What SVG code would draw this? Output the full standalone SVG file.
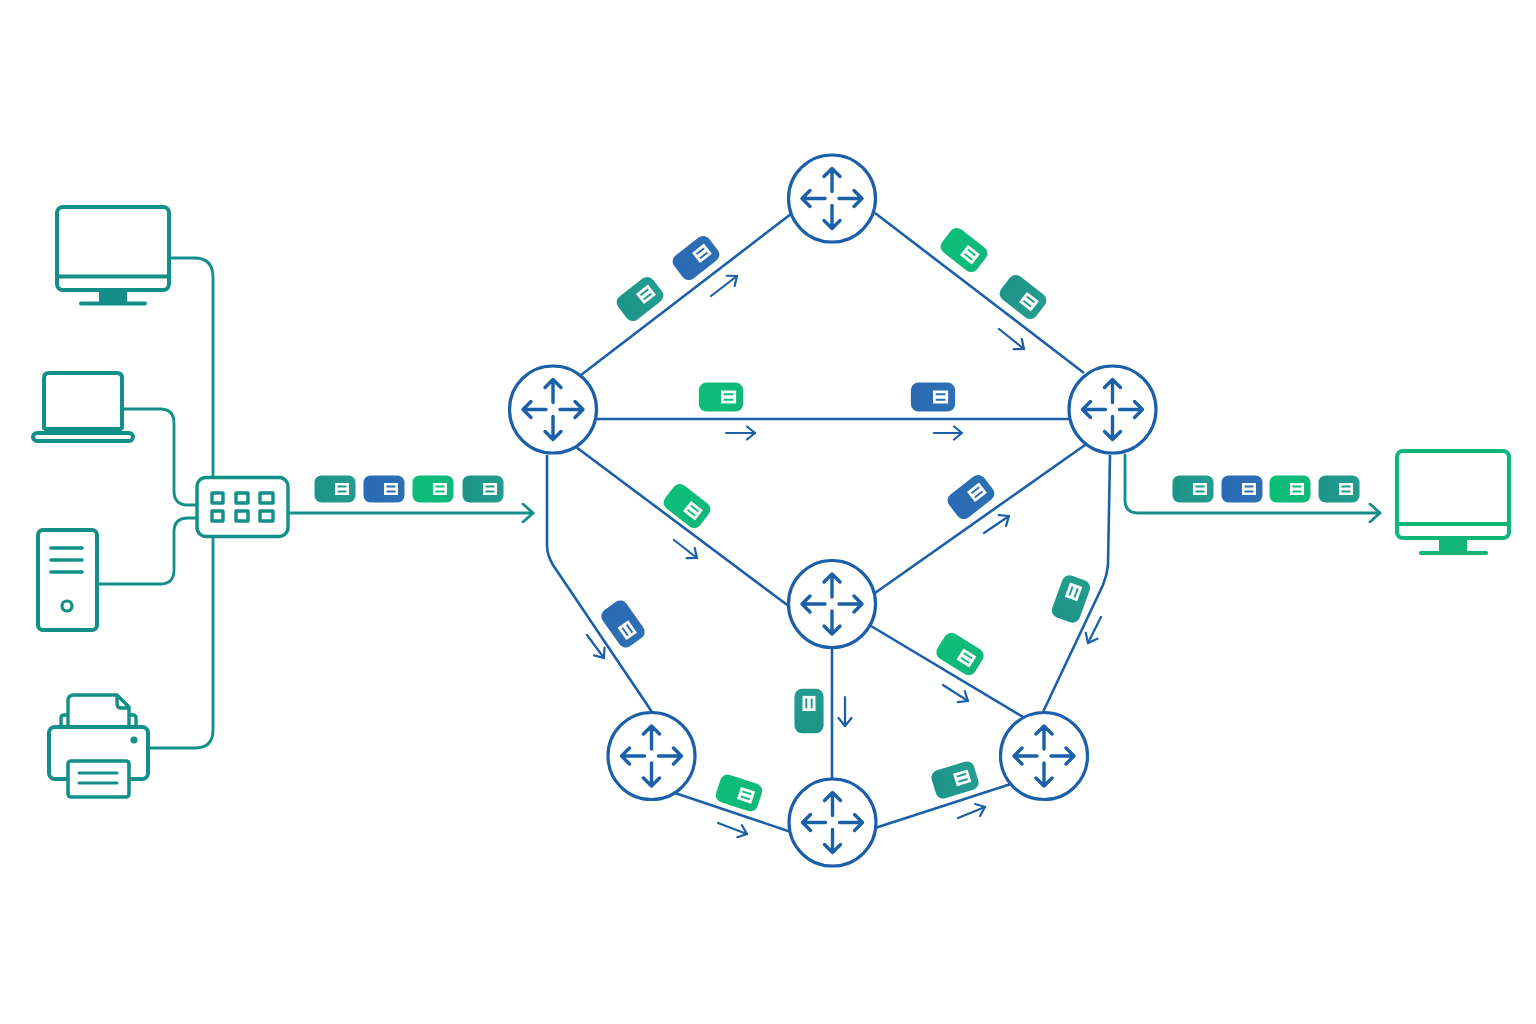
<svg xmlns="http://www.w3.org/2000/svg" width="1536" height="1024" viewBox="0 0 1536 1024">
<style>
.t{fill:none;stroke:#128f88;stroke-width:2.800;stroke-linecap:round;stroke-linejoin:round}
.ti{fill:none;stroke:#128f88;stroke-width:4;stroke-linecap:round;stroke-linejoin:round}
.tf{fill:#128f88}
.g{fill:none;stroke:#10b577;stroke-width:4.200;stroke-linecap:round;stroke-linejoin:round}
.gf{fill:#10b577}
.l{fill:none;stroke:#1a5fa8;stroke-width:2.600;stroke-linejoin:round}
.a{fill:none;stroke:#1a5fa8;stroke-width:2.200;stroke-linecap:round;stroke-linejoin:round}
.r{fill:#fff;stroke:#1a5fa8;stroke-width:3.200}
.ra{fill:none;stroke:#1a5fa8;stroke-width:3.400;stroke-linecap:round;stroke-linejoin:round}
.pt{fill:url(#gt)}.pb{fill:url(#gb)}.pg{fill:url(#gg)}
.w{fill:#fff}
.il{fill:none;stroke-width:1.800}
</style>
<defs>
<linearGradient id="gt"><stop offset="0" stop-color="#1d9488"/><stop offset="1" stop-color="#249c8f"/></linearGradient>
<linearGradient id="gb"><stop offset="0" stop-color="#2a6ab4"/><stop offset="1" stop-color="#2c71b3"/></linearGradient>
<linearGradient id="gg"><stop offset="0" stop-color="#0cbe78"/><stop offset="1" stop-color="#10b87a"/></linearGradient>
<marker id="ah" viewBox="-10 -8 12 16" markerWidth="12" markerHeight="16" refX="0" refY="0" orient="auto" markerUnits="userSpaceOnUse"><path d="M-8 -6.500L0 0L-8 6.500" fill="none" stroke="#1a5fa8" stroke-width="2.200" stroke-linecap="round" stroke-linejoin="round"/></marker>
<marker id="at" viewBox="-12 -10 14 20" markerWidth="14" markerHeight="20" refX="0" refY="0" orient="auto" markerUnits="userSpaceOnUse"><path d="M-10 -9L0 0L-10 9" fill="none" stroke="#128f88" stroke-width="2.800" stroke-linecap="round" stroke-linejoin="round"/></marker>
<g id="router"><circle class="r" r="43.500"/><path class="ra" d="M0 -7V-30M-8 -22L0 -30L8 -22M0 7V30M-8 22L0 30L8 22M-7 0H-30M-22 -8L-30 0L-22 8M7 0H30M22 -8L30 0L22 8"/></g>
<g id="pt"><rect class="pt" x="-20.500" y="-13.500" width="41" height="27" rx="7"/><rect class="w" x="0" y="-6" width="14" height="12"/><path class="il" d="M2.500 -2.500H11.500M2.500 2.500H11.500" stroke="#1f9a8a"/></g>
<g id="pb"><rect class="pb" x="-20.500" y="-13.500" width="41" height="27" rx="7"/><rect class="w" x="0" y="-6" width="14" height="12"/><path class="il" d="M2.500 -2.500H11.500M2.500 2.500H11.500" stroke="#2a6db5"/></g>
<g id="pg"><rect class="pg" x="-20.500" y="-13.500" width="41" height="27" rx="7"/><rect class="w" x="0" y="-6" width="14" height="12"/><path class="il" d="M2.500 -2.500H11.500M2.500 2.500H11.500" stroke="#0cbf76"/></g>
</defs>
<rect width="1536" height="1024" fill="#fff"/>
<g id="connectors">
<path class="t" d="M170 258H194Q213 258 213 277V477"/>
<path class="t" d="M123 409H160Q174 409 174 423V491Q174 505 188 505H197"/>
<path class="t" d="M97 584H160Q174 584 174 570V532Q174 518 188 518H197"/>
<path class="t" d="M148 748H195Q213 748 213 730V537"/>
<path class="t" d="M288 513H533" marker-end="url(#at)"/>
<path class="t" d="M1125 455V500Q1125 513 1138 513H1380" marker-end="url(#at)"/>
<path class="l" d="M581 375L791 214"/>
<path class="l" d="M875 213L1084 373"/>
<path class="l" d="M597 419H1070"/>
<path class="l" d="M576 447L790 607"/>
<path class="l" d="M875 593L1085 445"/>
<path class="l" d="M547 455V545Q547 555 553 565L652 712"/>
<path class="l" d="M832 648V778"/>
<path class="l" d="M871 626L1023 717"/>
<path class="l" d="M1110 455L1108 565Q1107 575 1103 585L1043 712"/>
<path class="l" d="M675 793L791 832"/>
<path class="l" d="M875 828L1014 783"/>
<g>
<path class="a" d="M711 296L737 276" marker-end="url(#ah)"/>
<path class="a" d="M999 329L1024 349" marker-end="url(#ah)"/>
<path class="a" d="M726 433H755" marker-end="url(#ah)"/>
<path class="a" d="M934 433H962" marker-end="url(#ah)"/>
<path class="a" d="M674 540L697 558" marker-end="url(#ah)"/>
<path class="a" d="M984 533L1009 516" marker-end="url(#ah)"/>
<path class="a" d="M587 635L604 658" marker-end="url(#ah)"/>
<path class="a" d="M845 697V726" marker-end="url(#ah)"/>
<path class="a" d="M943 685L968 701" marker-end="url(#ah)"/>
<path class="a" d="M1101 617L1088 643" marker-end="url(#ah)"/>
<path class="a" d="M718 823L747 834" marker-end="url(#ah)"/>
<path class="a" d="M958 818L985 807" marker-end="url(#ah)"/>
</g>
</g>
<g id="packets">
<use href="#pt" transform="translate(335 489)"/>
<use href="#pb" transform="translate(384 489)"/>
<use href="#pg" transform="translate(433 489)"/>
<use href="#pt" transform="translate(483 489)"/>
<use href="#pt" transform="translate(1193 489)"/>
<use href="#pb" transform="translate(1242 489)"/>
<use href="#pg" transform="translate(1290 489)"/>
<use href="#pt" transform="translate(1339 489)"/>
<use href="#pt" transform="translate(640 299) rotate(-38) scale(1.080)"/>
<use href="#pb" transform="translate(696 258) rotate(-38) scale(1.080)"/>
<use href="#pg" transform="translate(964 250) rotate(38) scale(1.080)"/>
<use href="#pt" transform="translate(1023 297) rotate(38) scale(1.080)"/>
<use href="#pg" transform="translate(721 397) scale(1.080)"/>
<use href="#pb" transform="translate(933 397) scale(1.080)"/>
<use href="#pg" transform="translate(687 506) rotate(38) scale(1.080)"/>
<use href="#pb" transform="translate(971 497) rotate(-38) scale(1.080)"/>
<use href="#pb" transform="translate(623 624) rotate(55) scale(1.080)"/>
<use href="#pt" transform="translate(1071 599) rotate(-70) scale(1.080)"/>
<use href="#pg" transform="translate(960 654) rotate(32) scale(1.080)"/>
<use href="#pt" transform="translate(809 711) rotate(-90) scale(1.080)"/>
<use href="#pg" transform="translate(739 793) rotate(18) scale(1.060)"/>
<use href="#pt" transform="translate(955 780) rotate(-17) scale(1.080)"/>
</g>
<g id="r1"><use href="#router" x="832" y="198.500"/></g>
<g id="r2"><use href="#router" x="553" y="409.500"/></g>
<g id="r3"><use href="#router" x="1112.500" y="409.500"/></g>
<g id="r4"><use href="#router" x="832" y="604"/></g>
<g id="r5"><use href="#router" x="651.500" y="756"/></g>
<g id="r6"><use href="#router" x="832.500" y="822.500"/></g>
<g id="r7"><use href="#router" x="1044" y="756"/></g>
<g id="desktop">
<rect class="ti" x="57" y="207" width="112" height="83" rx="6"/>
<path class="ti" d="M57 276.500H169M81 303.500H145"/>
<rect class="tf" x="99" y="290" width="28" height="13"/>
</g>
<g id="laptop">
<path class="ti" d="M44 428V378Q44 373 49 373H117Q122 373 122 378V428"/>
<rect class="tf" x="44" y="427" width="78" height="6"/>
<rect class="ti" x="33" y="433" width="100" height="8" rx="4"/>
</g>
<g id="server">
<rect class="ti" x="38" y="530" width="59" height="100" rx="5"/>
<path class="ti" d="M51 548H82M51 560H82M51 572H82" style="stroke-width:3.600"/>
<circle class="t" cx="67" cy="606" r="5" style="stroke-width:3.200"/>
</g>
<g id="printer">
<rect class="ti" x="49" y="727" width="99" height="52" rx="6"/>
<path class="ti" d="M68 727V701Q68 695 74 695H117L129 707V727M117 695V704Q117 708 121 708H129M68 715H64Q61 715 61 718V727M129 715H133Q136 715 136 718V727" style="stroke-width:3.400"/>
<rect x="68" y="761" width="61" height="36" rx="3" fill="#fff" stroke="#128f88" stroke-width="3.600"/>
<path class="ti" d="M79 773H117M79 783H117" style="stroke-width:3"/>
<circle class="tf" cx="134" cy="740" r="3.500"/>
</g>
<g id="switch">
<rect class="ti" x="197" y="477.500" width="91" height="59" rx="9" fill="#fff" style="stroke-width:3.400"/>
<path d="M212 493H223V503H212ZM236 493H248V503H236ZM260 493H273V503H260ZM212 511H223V521H212ZM236 511H248V521H236ZM260 511H273V521H260Z" class="ti" style="stroke-width:3.400"/>
</g>
<g id="monitor-out">
<rect class="g" x="1397" y="451" width="112" height="87" rx="6"/>
<path class="g" d="M1397 524H1509M1421 553H1486"/>
<rect class="gf" x="1439" y="538" width="28" height="14"/>
</g>
</svg>
